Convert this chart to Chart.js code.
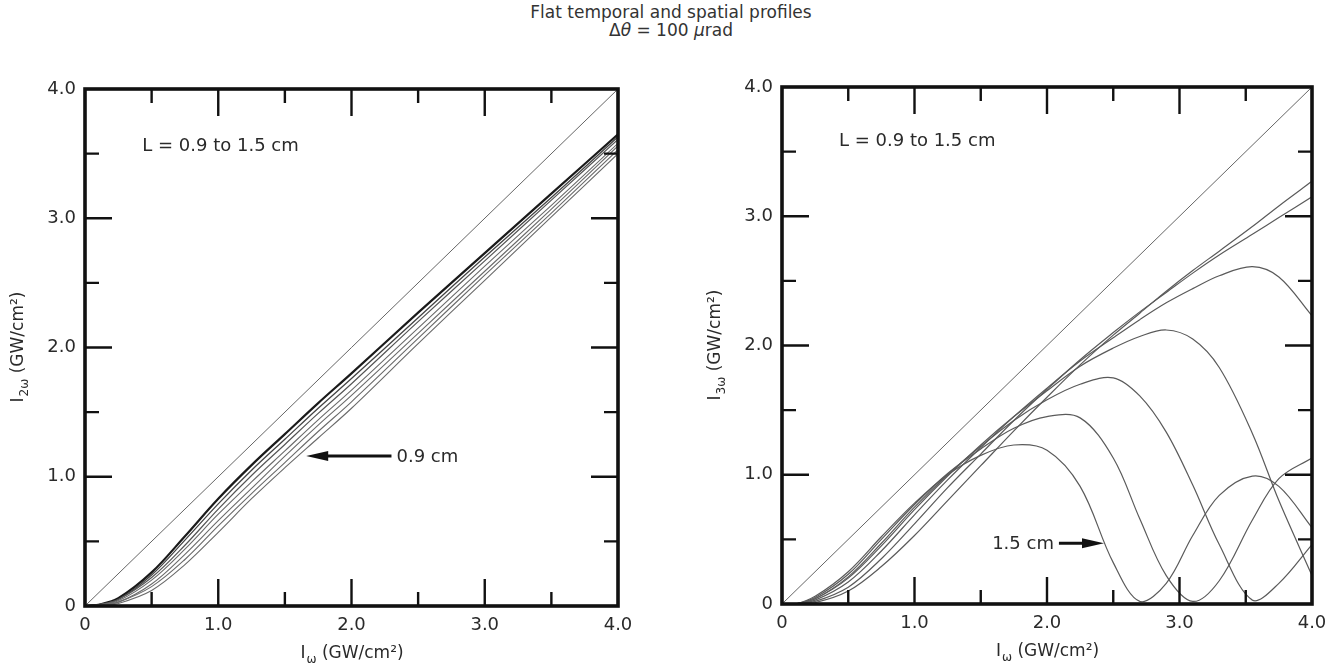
<!DOCTYPE html>
<html>
<head>
<meta charset="utf-8">
<script src="https://cdn.jsdelivr.net/npm/chart.js@4.4.1/dist/chart.umd.min.js"></script>
<style>
  html, body { margin: 0; padding: 0; background: #fff; }
  body { width: 1342px; height: 667px; position: relative; overflow: hidden;
         font-family: "DejaVu Sans", "Liberation Sans", Arial, sans-serif; }
  .title { position: absolute; left: 0; width: 1342px; text-align: center; color: #333; font-size: 17px; }
  .panel { position: absolute; top: 0; }
</style>
</head>
<body>
<div class="title" style="top:2px">Flat temporal and spatial profiles</div>
<div class="title" style="top:20px">Δ<i>θ</i> = 100 <i>μ</i>rad</div>
<div class="panel" style="left:0"><canvas id="shgChart" width="650" height="667"></canvas></div>
<div class="panel" style="left:700px"><canvas id="thgChart" width="642" height="667"></canvas></div>
<script>
// axis ticks (same on both panels)
const tickLabels = ["0", "1.0", "2.0", "3.0", "4.0"];
const majorTicks = [1, 2, 3];
const minorTicks = [0.5, 1.5, 2.5, 3.5];

// 100 % conversion line
const fullConversion = [[0, 0], [4, 4]];

// second harmonic, crystal length 1.5 cm down to 0.9 cm
const xShg = [0, 0.1, 0.25, 0.5, 0.75, 1.0, 1.25, 1.5, 1.75, 2.0, 2.5, 3.0, 3.5, 4.0];
const shg15 = [0, 0.01, 0.06, 0.26, 0.54, 0.83, 1.09, 1.33, 1.57, 1.80, 2.27, 2.73, 3.19, 3.65];
const shg14 = [0, 0.01, 0.05, 0.24, 0.51, 0.79, 1.05, 1.29, 1.53, 1.76, 2.23, 2.70, 3.16, 3.63];
const shg13 = [0, 0.01, 0.05, 0.22, 0.47, 0.75, 1.01, 1.25, 1.49, 1.72, 2.20, 2.67, 3.14, 3.61];
const shg12 = [0, 0.01, 0.04, 0.20, 0.44, 0.71, 0.96, 1.20, 1.44, 1.67, 2.15, 2.63, 3.10, 3.58];
const shg11 = [0, 0.01, 0.03, 0.17, 0.40, 0.66, 0.91, 1.16, 1.40, 1.63, 2.11, 2.59, 3.07, 3.56];
const shg10 = [0, 0.00, 0.03, 0.15, 0.36, 0.62, 0.87, 1.11, 1.35, 1.58, 2.07, 2.56, 3.04, 3.53];
const shg09 = [0, 0.00, 0.02, 0.12, 0.32, 0.57, 0.83, 1.07, 1.30, 1.53, 2.03, 2.52, 3.01, 3.50];

// third harmonic, crystal length 1.5 cm down to 0.9 cm
const xThg = [0, 0.1, 0.25, 0.5, 0.75, 1.0, 1.25, 1.5, 1.75, 2.0, 2.25, 2.5, 2.7, 2.9, 3.1, 3.3, 3.55, 3.75, 4.0];
const thg15 = [0, 0, 0.06, 0.25, 0.52, 0.78, 1.00, 1.15, 1.23, 1.19, 0.91, 0.32, 0.02, 0.16, 0.53, 0.84, 0.99, 0.91, 0.59];
const thg14 = [0, 0, 0.05, 0.23, 0.50, 0.77, 1.01, 1.20, 1.36, 1.45, 1.44, 1.13, 0.66, 0.22, 0.02, 0.18, 0.65, 0.97, 1.13];
const thg13 = [0, 0, 0.04, 0.21, 0.47, 0.75, 1.00, 1.22, 1.42, 1.58, 1.70, 1.75, 1.61, 1.33, 0.92, 0.46, 0.03, 0.16, 0.46];
const thg12 = [0, 0, 0.04, 0.20, 0.45, 0.73, 0.99, 1.23, 1.45, 1.65, 1.84, 1.98, 2.07, 2.12, 2.05, 1.83, 1.32, 0.80, 0.22];
const thg11 = [0, 0, 0.03, 0.17, 0.41, 0.69, 0.96, 1.21, 1.45, 1.67, 1.88, 2.06, 2.20, 2.33, 2.44, 2.54, 2.61, 2.53, 2.23];
const thg10 = [0, 0, 0.02, 0.13, 0.35, 0.62, 0.90, 1.16, 1.42, 1.66, 1.89, 2.10, 2.26, 2.41, 2.56, 2.70, 2.86, 2.99, 3.15];
const thg09 = [0, 0, 0.01, 0.10, 0.29, 0.53, 0.80, 1.07, 1.34, 1.60, 1.85, 2.08, 2.25, 2.42, 2.58, 2.73, 2.92, 3.08, 3.27];

const FONT = '"DejaVu Sans", "Liberation Sans", Arial, sans-serif';
const INK = "#2a2a2a";

function pts(xs, ys) {
  return xs.map((x, i) => ({ x: x, y: ys[i] }));
}

function curve(xs, ys, width, color) {
  return {
    data: pts(xs, ys),
    showLine: true,
    borderColor: color || "#5a5a5a",
    borderWidth: width || 1.1,
    pointRadius: 0,
    tension: 0.35,
  };
}

// "I" with a subscript, then the unit
function drawAxisTitle(ctx, cx, cy, sub, rotate) {
  ctx.save();
  ctx.translate(cx, cy);
  if (rotate) ctx.rotate(-Math.PI / 2);
  ctx.fillStyle = INK;
  ctx.textAlign = "left";
  ctx.textBaseline = "alphabetic";
  const big = "17px " + FONT, small = "12px " + FONT;
  const rest = " (GW/cm²)";
  ctx.font = big;
  const wI = ctx.measureText("I").width, wR = ctx.measureText(rest).width;
  ctx.font = small;
  const wS = ctx.measureText(sub).width;
  let x = -(wI + wS + wR) / 2;
  ctx.font = big;
  ctx.fillText("I", x, 6);
  x += wI + 1;
  ctx.font = small;
  ctx.fillText(sub, x, 11);
  x += wS;
  ctx.font = big;
  ctx.fillText(rest, x, 6);
  ctx.restore();
}

function drawArrow(ctx, x0, x1, y) {
  // x1 is the tip
  const dir = Math.sign(x1 - x0);
  ctx.beginPath();
  ctx.moveTo(x0, y);
  ctx.lineTo(x1 - dir * 16, y);
  ctx.lineWidth = 3;
  ctx.stroke();
  ctx.beginPath();
  ctx.moveTo(x1, y);
  ctx.lineTo(x1 - dir * 22, y - 5);
  ctx.lineTo(x1 - dir * 22, y + 5);
  ctx.closePath();
  ctx.fill();
}

const panelDeco = {
  id: "panelDeco",
  afterDatasetsDraw(chart, args, opts) {
    const { ctx, chartArea: a } = chart;
    const xs = chart.scales.x, ys = chart.scales.y;
    ctx.save();
    ctx.strokeStyle = "#111";
    ctx.fillStyle = "#111";
    ctx.lineCap = "butt";

    // inward ticks on all four sides
    const marks = majorTicks.map(v => [v, 27]).concat(minorTicks.map(v => [v, 14]));
    ctx.lineWidth = 2.4;
    marks.forEach(([v, len]) => {
      const px = xs.getPixelForValue(v), py = ys.getPixelForValue(v);
      ctx.beginPath();
      ctx.moveTo(px, a.bottom); ctx.lineTo(px, a.bottom - len);
      ctx.moveTo(px, a.top); ctx.lineTo(px, a.top + len);
      ctx.moveTo(a.left, py); ctx.lineTo(a.left + len, py);
      ctx.moveTo(a.right, py); ctx.lineTo(a.right - len, py);
      ctx.stroke();
    });

    // heavy frame
    ctx.lineWidth = 3.6;
    ctx.strokeRect(a.left, a.top, a.right - a.left, a.bottom - a.top);

    // notes inside the frame
    ctx.fillStyle = INK;
    ctx.font = "18px " + FONT;
    ctx.textBaseline = "middle";
    ctx.textAlign = "left";
    ctx.fillText(opts.note, xs.getPixelForValue(opts.noteAt[0]), ys.getPixelForValue(opts.noteAt[1]));

    const ar = opts.arrow;
    const ay = ys.getPixelForValue(ar.y);
    const pointsLeft = ar.tip < ar.tail;
    ctx.textAlign = pointsLeft ? "left" : "right";
    const labelX = xs.getPixelForValue(ar.tail) + (pointsLeft ? 5 : -5);
    ctx.fillText(ar.label, labelX, ay + 1);
    ctx.fillStyle = "#111";
    drawArrow(ctx, xs.getPixelForValue(ar.tail), xs.getPixelForValue(ar.tip), ay);

    // axis titles
    drawAxisTitle(ctx, (a.left + a.right) / 2, a.bottom + 46, "ω", false);
    drawAxisTitle(ctx, a.left - 68, (a.top + a.bottom) / 2, opts.ySub, true);
    ctx.restore();
  },
};

function axis(fixed, size) {
  return {
    type: "linear",
    min: 0,
    max: 4,
    grid: { display: false, drawTicks: false },
    border: { display: false },
    ticks: {
      stepSize: 1,
      padding: 9,
      color: INK,
      font: { family: FONT, size: 18 },
      callback: (v, i) => tickLabels[i],
    },
    afterFit(scale) {
      if (fixed === "w") scale.width = size;
      else scale.height = size;
    },
  };
}

function makeChart(id, datasets, pad, yWidth, xHeight, deco) {
  return new Chart(document.getElementById(id), {
    type: "scatter",
    data: { datasets: datasets },
    options: {
      responsive: false,
      animation: false,
      layout: { padding: pad },
      scales: { x: axis("h", xHeight), y: axis("w", yWidth) },
      plugins: {
        legend: { display: false },
        tooltip: { enabled: false },
        panelDeco: deco,
      },
    },
    plugins: [panelDeco],
  });
}

const diag = { data: fullConversion.map(p => ({ x: p[0], y: p[1] })), showLine: true,
  borderColor: "#666", borderWidth: 1, pointRadius: 0 };

makeChart("shgChart", [
  diag,
  curve(xShg, shg09, 1.1, "#6a6a6a"),
  curve(xShg, shg10, 1.1, "#6a6a6a"),
  curve(xShg, shg11, 1.1, "#6a6a6a"),
  curve(xShg, shg12, 1.1, "#6a6a6a"),
  curve(xShg, shg13, 1.2, "#555"),
  curve(xShg, shg14, 1.3, "#444"),
  curve(xShg, shg15, 2.2, "#1a1a1a"),
], { top: 89, right: 32, left: 0, bottom: 0 }, 85, 61, {
  note: "L = 0.9 to 1.5 cm",
  noteAt: [0.43, 3.56],
  ySub: "2ω",
  arrow: { label: "0.9 cm", tip: 1.66, tail: 2.3, y: 1.16 },
});

makeChart("thgChart", [
  { ...diag },
  curve(xThg, thg09, 1.2),
  curve(xThg, thg10, 1.2),
  curve(xThg, thg11, 1.2),
  curve(xThg, thg12, 1.2),
  curve(xThg, thg13, 1.2),
  curve(xThg, thg14, 1.2),
  curve(xThg, thg15, 1.2),
], { top: 87, right: 30, left: 0, bottom: 0 }, 82, 63, {
  note: "L = 0.9 to 1.5 cm",
  noteAt: [0.43, 3.58],
  ySub: "3ω",
  arrow: { label: "1.5 cm", tip: 2.43, tail: 2.09, y: 0.47 },
});
</script>
</body>
</html>
